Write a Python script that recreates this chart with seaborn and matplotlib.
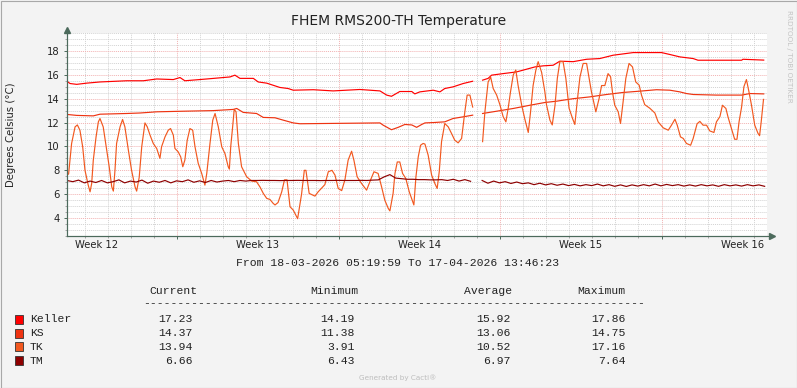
import numpy as np
import pandas as pd
import matplotlib
matplotlib.use("Agg")
import matplotlib.pyplot as plt
import matplotlib.dates as mdates
from matplotlib.lines import Line2D
from matplotlib.patches import Rectangle
from matplotlib.ticker import MultipleLocator, NullFormatter
import seaborn as sns

W, H = 797, 388
START = pd.Timestamp("2026-03-18 05:19:59")
END = pd.Timestamp("2026-04-17 13:46:23")

SENSORS = ["Keller", "KS", "TK", "TM"]
COLORS = {"Keller": "#FF0000", "KS": "#EE3311", "TK": "#F2581F", "TM": "#8E0000"}

# ============================================
# DATA (days since start, degrees C)
# ============================================
keller_day = [0.0, 0.13, 0.42, 0.85, 1.43, 2.59, 3.31, 3.89, 4.61, 4.9, 5.11, 6.06, 7.07, 7.28,
              7.5, 8.08, 8.29, 8.66, 9.23, 9.59, 9.81, 10.68, 11.54, 12.7, 13.57, 13.86, 14.07,
              14.43, 14.95, 15.08, 15.3, 15.88, 16.17, 16.38, 16.74, 17.18, 17.59, 17.8,
              18.02, 18.26, 18.41, 18.91, 19.49, 19.93, 20.29, 20.65, 21.08, 21.37, 21.95,
              22.53, 23.1, 23.68, 24.55, 25.78, 26.14, 26.57, 27.15, 27.36, 29.25, 29.31, 30.21]
keller_temp = [15.46, 15.27, 15.2, 15.3, 15.4, 15.5, 15.5, 15.65, 15.6, 15.77, 15.5, 15.65, 15.82, 15.97,
               15.7, 15.7, 15.4, 15.3, 14.94, 14.85, 14.71, 14.75, 14.65, 14.77, 14.65, 14.3, 14.2,
               14.6, 14.6, 14.4, 14.57, 14.71, 14.57, 14.85, 14.99, 15.27, 15.46, np.nan,
               15.55, 15.7, 15.97, 16.1, 16.24, 16.47, 16.66, 16.75, 16.8, 17.14, 17.1,
               17.3, 17.36, 17.64, 17.86, 17.86, 17.7, 17.5, 17.36, 17.22, 17.22, 17.3, 17.23]

ks_day = [0.0, 0.42, 1.14, 1.43, 2.59, 3.16, 3.89, 5.04, 6.34, 7.21, 7.36, 7.64, 8.22, 8.51,
          9.02, 9.38, 9.81, 10.1, 13.57, 13.71, 14.07, 14.36, 14.65, 14.95, 15.16, 15.38, 15.52,
          15.88, 16.38, 16.74, 17.18, 17.59, 17.8,
          18.02, 18.63, 19.35, 20.07, 20.72, 21.23, 21.95, 22.67, 23.39, 24.11, 24.84, 25.56,
          26.14, 26.57, 26.86, 27.15, 28.16, 29.25, 29.61, 30.21]
ks_temp = [12.68, 12.6, 12.56, 12.7, 12.76, 12.8, 12.9, 12.95, 13.0, 13.1, 13.18, 12.85, 12.76, 12.43,
           12.4, 12.2, 11.97, 11.9, 11.97, 11.78, 11.4, 11.6, 11.84, 11.8, 11.6, 11.84, 11.97,
           12.0, 12.06, 12.34, 12.48, 12.62, np.nan,
           12.76, 12.95, 13.18, 13.45, 13.68, 13.79, 14.0, 14.15, 14.35, 14.52, 14.63, 14.75,
           14.71, 14.57, 14.43, 14.35, 14.3, 14.3, 14.43, 14.4]

tk_day = [0.0, 0.07, 0.2, 0.35, 0.45, 0.56, 0.68, 0.78, 0.92, 1.0, 1.07, 1.14, 1.26, 1.36, 1.43,
          1.57, 1.72, 1.83, 1.94, 2.01, 2.08, 2.15, 2.3, 2.41, 2.51, 2.66, 2.8, 2.95, 3.02, 3.13,
          3.24, 3.38, 3.48, 3.6, 3.74, 3.89, 4.03, 4.1, 4.25, 4.39, 4.49, 4.61, 4.68, 4.82, 4.93,
          5.02, 5.11, 5.21, 5.33, 5.45, 5.55, 5.69, 5.84, 5.98, 6.06, 6.2, 6.32, 6.42, 6.56, 6.71,
          6.85, 6.99, 7.04, 7.1, 7.18, 7.25, 7.33, 7.43, 7.57, 7.79, 8.01, 8.22, 8.37, 8.51, 8.66,
          8.8, 8.94, 9.02, 9.15, 9.31, 9.43, 9.54, 9.67, 9.81, 10.0, 10.17, 10.29, 10.36, 10.5, 10.75,
          10.89, 11.18, 11.33, 11.49, 11.62, 11.76, 11.91, 12.05, 12.19, 12.34, 12.44, 12.58, 12.77, 12.99, 13.16,
          13.31, 13.49, 13.64, 13.78, 13.93, 14.0, 14.14, 14.22, 14.32, 14.43, 14.55, 14.69, 14.84, 15.04, 15.13,
          15.23, 15.33, 15.44, 15.52, 15.66, 15.81, 15.95, 16.05, 16.14, 16.24, 16.38, 16.53, 16.67, 16.81, 16.96,
          17.11, 17.25, 17.35, 17.47, 17.59, 17.8,
          18.02, 18.12, 18.26, 18.37, 18.48, 18.63, 18.77, 18.91, 19.03, 19.13, 19.23, 19.35, 19.46, 19.56, 19.71,
          19.85, 20.0, 20.1, 20.21, 20.33, 20.43, 20.58, 20.72, 20.79, 20.94, 21.04, 21.16, 21.26, 21.37, 21.51,
          21.63, 21.77, 21.92, 22.02, 22.12, 22.24, 22.38, 22.53, 22.64, 22.74, 22.84, 22.93, 23.07, 23.18, 23.32,
          23.46, 23.57, 23.65, 23.75, 23.9, 24.0, 24.11, 24.23, 24.37, 24.52, 24.66, 24.81, 24.91, 25.05, 25.27,
          25.49, 25.63, 25.85, 26.07, 26.21, 26.36, 26.46, 26.6, 26.72, 26.86, 27.04, 27.15, 27.32, 27.44, 27.58,
          27.73, 27.87, 28.05, 28.16, 28.31, 28.42, 28.57, 28.66, 28.81, 28.95, 29.05, 29.14, 29.25, 29.35, 29.46,
          29.57, 29.68, 29.82, 29.96, 30.03, 30.1, 30.2]
tk_temp = [7.6, 7.7, 10.25, 11.64, 11.8, 11.36, 9.97, 8.0, 6.76, 6.2, 6.9, 8.85, 10.8, 12.06, 12.34,
           11.64, 9.7, 8.3, 6.62, 6.26, 8.0, 10.25, 11.64, 12.26, 11.64, 9.7, 8.0, 6.62, 6.26, 7.4,
           9.97, 11.97, 11.64, 10.95, 10.25, 9.83, 9.0, 9.97, 10.8, 11.36, 11.5, 10.95, 9.83, 9.55, 9.13,
           8.3, 8.85, 10.5, 11.5, 11.36, 9.97, 8.58, 7.74, 6.76, 7.74, 10.25, 12.2, 12.76, 11.64, 9.97,
           9.4, 8.3, 8.1, 10.0, 11.6, 13.1, 12.9, 10.25, 8.3, 7.46, 7.1, 7.04, 6.6, 6.07, 5.65,
           5.56, 5.23, 5.1, 5.3, 6.2, 7.2, 7.2, 4.95, 4.67, 3.95, 6.0, 8.0, 8.0, 6.07, 5.84,
           6.2, 6.8, 7.88, 8.0, 7.6, 6.48, 6.3, 7.2, 8.85, 9.6, 8.85, 7.46, 6.9, 6.34, 7.18,
           7.88, 7.74, 6.62, 5.5, 4.81, 4.6, 6.07, 7.74, 8.7, 8.7, 7.74, 7.32, 6.2, 5.1, 7.46,
           9.13, 10.1, 10.25, 10.2, 9.27, 7.6, 6.9, 6.48, 7.88, 10.4, 11.92, 11.64, 11.1, 10.53, 10.3,
           10.67, 12.9, 14.3, 14.3, 13.3, np.nan,
           10.4, 12.9, 15.4, 15.8, 14.85, 14.3, 13.5, 12.5, 12.06, 13.2, 14.57, 16.0, 16.4, 15.1, 13.5,
           12.3, 11.17, 12.9, 15.1, 16.4, 17.1, 16.2, 14.57, 13.5, 12.2, 11.8, 13.45, 15.7, 17.1, 17.1,
           15.7, 13.2, 12.34, 11.84, 13.73, 15.8, 16.95, 16.95, 15.7, 14.57, 13.7, 12.9, 14.0, 15.1, 15.1,
           16.1, 15.83, 14.57, 13.45, 12.9, 11.92, 13.7, 15.7, 16.95, 16.66, 15.4, 15.13, 14.3, 13.5, 13.2,
           12.8, 12.06, 11.56, 11.36, 11.78, 12.28, 11.78, 10.8, 10.67, 10.25, 10.1, 10.67, 11.9, 12.1, 11.78,
           11.78, 11.3, 11.17, 12.06, 12.5, 13.45, 13.18, 12.48, 11.5, 10.6, 10.6, 12.06, 13.3, 15.0, 15.6,
           14.57, 13.45, 11.78, 11.1, 10.9, 12.06, 13.94]

# TM sampled every 6 hours from start
tm_temp = [7.15, 7.05, 7.18, 6.95, 7.1, 6.98, 7.15, 6.95, 7.05, 7.2, 6.95, 7.1, 7.02, 7.18, 6.92, 7.1,
           7.0, 7.15, 6.95, 7.12, 7.05, 7.2, 7.0, 7.12, 6.98, 7.15, 7.02, 7.1, 7.15, 7.05, 7.15, 7.1,
           7.15, 7.15, 7.16, 7.15, 7.15, 7.14, 7.15, 7.15, 7.16, 7.15, 7.15, 7.15, 7.14, 7.15, 7.15, 7.16,
           7.15, 7.15, 7.15, 7.16, 7.15, 7.18, 7.2, 7.45,
           7.64, 7.35, 7.3, 7.25, 7.25, 7.22, 7.22, 7.2, 7.2, 7.22, 7.15, 7.25, 7.1, 7.22, 7.08, np.nan,
           7.15, 6.92, 7.1, 6.95, 7.05, 6.9, 7.02, 6.88, 6.95, 6.8, 6.92, 6.78, 6.88, 6.75, 6.85, 6.72,
           6.82, 6.7, 6.8, 6.72, 6.85, 6.7, 6.8, 6.66, 6.78, 6.65, 6.78, 6.68, 6.8, 6.7, 6.85, 6.7,
           6.82, 6.72, 6.8, 6.68, 6.78, 6.68, 6.8, 6.7, 6.78, 6.66, 6.8, 6.7, 6.78, 6.68, 6.8, 6.7,
           6.78, 6.66]
tm_day = list(np.arange(len(tm_temp)) * 0.25)

stat_current = [17.23, 14.37, 13.94, 6.66]
stat_minimum = [14.19, 11.38, 3.91, 6.43]
stat_average = [15.92, 13.06, 10.52, 6.97]
stat_maximum = [17.86, 14.75, 17.16, 7.64]


def to_frame(name, days, temps):
    d = pd.DataFrame({"day": days, "temp": temps})
    d["seg"] = d["temp"].isna().cumsum()
    d = d.dropna().copy()
    d["time"] = START + pd.to_timedelta(d["day"], unit="D")
    d["sensor"] = name
    d["unit"] = name + "_" + d["seg"].astype(str)
    return d


df = pd.concat([
    to_frame("Keller", keller_day, keller_temp),
    to_frame("KS", ks_day, ks_temp),
    to_frame("TK", tk_day, tk_temp),
    to_frame("TM", tm_day, tm_temp),
], ignore_index=True)


def fx(x):
    return x / W


def fy(y):
    return 1 - y / H


# ============================================
# FIGURE
# ============================================
AXIS_COL = "#4C6A5C"
fig = plt.figure(figsize=(W / 100, H / 100), dpi=100, facecolor="#F3F3F3")
ax = fig.add_axes([fx(67), fy(236), fx(767) - fx(67), fy(33) - fy(236)])
ax.set_facecolor("white")

sns.lineplot(data=df, x="time", y="temp", hue="sensor", hue_order=SENSORS, units="unit",
             estimator=None, sort=False, palette=COLORS, linewidth=0.85, legend=False, ax=ax)

ax.set_xlim(START, END)
ax.set_ylim(2.5, 19.5)
ax.set_xlabel("")
ax.set_ylabel("")

ax.yaxis.set_major_locator(MultipleLocator(2))
ax.yaxis.set_minor_locator(MultipleLocator(0.5))
ax.set_yticks(np.arange(4, 19, 2))
ax.xaxis.set_major_locator(mdates.WeekdayLocator(byweekday=mdates.MO))
ax.xaxis.set_minor_locator(mdates.DayLocator())
ax.xaxis.set_major_formatter(NullFormatter())

ax.grid(which="minor", color="#D2D2D2", linestyle=(0, (1, 1)), linewidth=0.7)
ax.grid(which="major", color="#F2B2B2", linestyle=(0, (1, 1)), linewidth=0.7)
ax.set_axisbelow(True)

ax.tick_params(which="major", direction="out", length=2.5, width=0.7, color=AXIS_COL,
               labelsize=7.2, labelcolor="#222222", pad=3)
ax.tick_params(which="minor", direction="out", length=1.5, width=0.6, color="#999999")
for s in ["top", "right"]:
    ax.spines[s].set_visible(False)
for s in ["left", "bottom"]:
    ax.spines[s].set_color(AXIS_COL)
    ax.spines[s].set_linewidth(0.8)

# axis arrows
fig.add_artist(Line2D([fx(67), fx(67)], [fy(236), fy(31)], color=AXIS_COL, lw=0.8))
fig.add_artist(Line2D([fx(67), fx(771)], [fy(236), fy(236)], color=AXIS_COL, lw=0.8))
fig.add_artist(Line2D([fx(67)], [fy(30)], marker="^", markersize=4, color=AXIS_COL, lw=0))
fig.add_artist(Line2D([fx(772)], [fy(236)], marker=">", markersize=4, color=AXIS_COL, lw=0))

# week labels at mid-week
first_monday = (START - pd.Timedelta(days=START.weekday())).normalize()
for monday in pd.date_range(first_monday, END, freq="7D"):
    mid = monday + pd.Timedelta(days=3.5)
    if START <= mid <= END:
        ax.annotate(f"Week {mid.isocalendar().week}", xy=(mdates.date2num(mid), 0),
                    xycoords=("data", "axes fraction"), xytext=(0, -3.2),
                    textcoords="offset points", ha="center", va="top",
                    fontsize=7.2, color="#222222")

# titles
fig.text(0.5, fy(21), "FHEM RMS200-TH Temperature", ha="center", va="center",
         fontsize=10, color="#222222")
fig.text(fx(11), fy(135), "Degrees Celsius (°C)", rotation=90, ha="center", va="center",
         fontsize=7.3, color="#222222")
fig.text(fx(789), fy(56), "RRDTOOL / TOBI OETIKER", rotation=270, ha="center", va="center",
         fontsize=5.2, color="#C4C4C4")

# legend table
MONO = dict(family="Liberation Mono", fontsize=8.2, color="#222222")
fig.text(fx(398), fy(263), f"From {START:%d-%m-%Y %H:%M:%S} To {END:%d-%m-%Y %H:%M:%S}",
         ha="center", va="center", **MONO)
for label, xr in [("Current", 197), ("Minimum", 358), ("Average", 512), ("Maximum", 625)]:
    fig.text(fx(xr), fy(291), label, ha="right", va="center", **MONO)
fig.text(fx(143), fy(303), "-" * 73, ha="left", va="center", **MONO)

row_y = [319, 333, 346.5, 360.5]
for i, name in enumerate(SENSORS):
    y = row_y[i]
    fig.add_artist(Rectangle((fx(15), fy(y + 4.5)), fx(8), 9 / H, transform=fig.transFigure,
                             facecolor=COLORS[name], edgecolor="#333333", lw=0.6))
    fig.text(fx(30), fy(y), name, ha="left", va="center", **MONO)
    for vals, xr in [(stat_current, 193), (stat_minimum, 355), (stat_average, 511), (stat_maximum, 626)]:
        fig.text(fx(xr), fy(y), f"{vals[i]:.2f}", ha="right", va="center", **MONO)

fig.text(fx(398), fy(378), "Generated by Cacti®", ha="center", va="center",
         fontsize=5.2, color="#BDBDBD")

# outer frame
fig.add_artist(Rectangle((0.5 / W, 0.5 / H), 1 - 1 / W, 1 - 1 / H, transform=fig.transFigure,
                         facecolor="none", edgecolor="#A8A8A8", lw=0.8))

fig.savefig("out.png", dpi=100, facecolor=fig.get_facecolor())
